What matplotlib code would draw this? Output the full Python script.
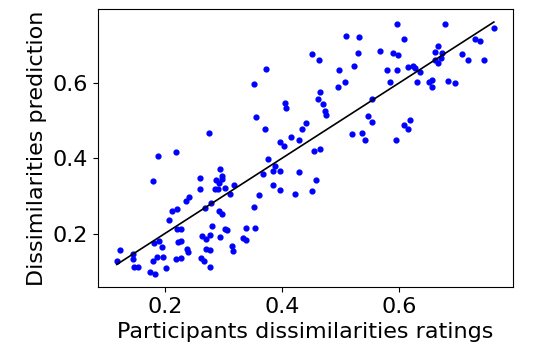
import matplotlib
matplotlib.use('Agg')
import matplotlib.pyplot as plt

ratings = [0.118, 0.123, 0.145, 0.146, 0.148, 0.154, 0.174, 0.180, 0.180, 0.181,
           0.184, 0.186, 0.189, 0.190, 0.196, 0.197, 0.202, 0.207, 0.213, 0.220,
           0.221, 0.221, 0.220, 0.223, 0.227, 0.228, 0.228, 0.237, 0.238, 0.240,
           0.242, 0.260, 0.260, 0.261, 0.264, 0.267, 0.268, 0.270, 0.271, 0.276,
           0.277, 0.277, 0.278, 0.279, 0.281, 0.286, 0.287, 0.291, 0.292, 0.293,
           0.294, 0.295, 0.297, 0.297, 0.298, 0.302, 0.302, 0.307, 0.312, 0.315,
           0.316, 0.318, 0.334, 0.338, 0.339, 0.352, 0.353, 0.354, 0.356, 0.361,
           0.368, 0.372, 0.373, 0.376, 0.384, 0.385, 0.388, 0.396, 0.397, 0.397,
           0.404, 0.405, 0.407, 0.415, 0.422, 0.429, 0.429, 0.435, 0.442, 0.452,
           0.452, 0.455, 0.458, 0.462, 0.463, 0.465, 0.465, 0.471, 0.473, 0.475,
           0.496, 0.498, 0.507, 0.510, 0.519, 0.523, 0.530, 0.531, 0.537, 0.542,
           0.547, 0.554, 0.554, 0.567, 0.580, 0.585, 0.590, 0.595, 0.597, 0.597,
           0.598, 0.608, 0.609, 0.615, 0.615, 0.619, 0.624, 0.628, 0.630, 0.636,
           0.651, 0.656, 0.657, 0.661, 0.661, 0.666, 0.667, 0.672, 0.674, 0.679,
           0.684, 0.696, 0.707, 0.718, 0.729, 0.739, 0.745, 0.762]

prediction = [0.126, 0.156, 0.147, 0.132, 0.110, 0.110, 0.098, 0.340, 0.127, 0.176,
              0.092, 0.138, 0.405, 0.180, 0.165, 0.137, 0.108, 0.235, 0.259, 0.415,
              0.265, 0.212, 0.132, 0.178, 0.212, 0.180, 0.134, 0.287, 0.160, 0.152,
              0.298, 0.348, 0.319, 0.135, 0.193, 0.126, 0.269, 0.185, 0.160, 0.467,
              0.110, 0.196, 0.156, 0.280, 0.219, 0.319, 0.342, 0.319, 0.333, 0.261,
              0.191, 0.370, 0.353, 0.345, 0.252, 0.322, 0.211, 0.209, 0.306, 0.168,
              0.154, 0.328, 0.188, 0.216, 0.182, 0.271, 0.596, 0.215, 0.508, 0.302,
              0.357, 0.476, 0.637, 0.397, 0.328, 0.367, 0.379, 0.315, 0.443, 0.367,
              0.431, 0.547, 0.534, 0.457, 0.306, 0.447, 0.362, 0.476, 0.494, 0.676,
              0.314, 0.418, 0.342, 0.556, 0.661, 0.576, 0.425, 0.543, 0.526, 0.514,
              0.588, 0.635, 0.601, 0.725, 0.464, 0.644, 0.680, 0.720, 0.466, 0.447,
              0.513, 0.557, 0.495, 0.685, 0.635, 0.601, 0.679, 0.448, 0.755, 0.635,
              0.673, 0.488, 0.717, 0.478, 0.643, 0.501, 0.645, 0.639, 0.601, 0.629,
              0.603, 0.606, 0.590, 0.660, 0.681, 0.652, 0.697, 0.666, 0.679, 0.756,
              0.604, 0.600, 0.675, 0.661, 0.716, 0.712, 0.661, 0.746]

# regression line end points
fit_x = [0.118, 0.762]
fit_y = [0.118, 0.761]

fig, ax = plt.subplots(figsize=(5.38, 3.49), dpi=100)
fig.subplots_adjust(left=0.182, right=0.953, top=0.973, bottom=0.178)

ax.scatter(ratings, prediction, s=12, color='blue', zorder=2)
ax.plot(fit_x, fit_y, color='black', linewidth=1.2, zorder=3)

ax.set_xticks([0.2, 0.4, 0.6])
ax.set_yticks([0.2, 0.4, 0.6])
ax.tick_params(labelsize=16)
ax.set_xlabel('Participants dissimilarities ratings', fontsize=16)
ax.set_ylabel('Dissimilarities prediction', fontsize=16)

plt.savefig('out.png', dpi=100)
